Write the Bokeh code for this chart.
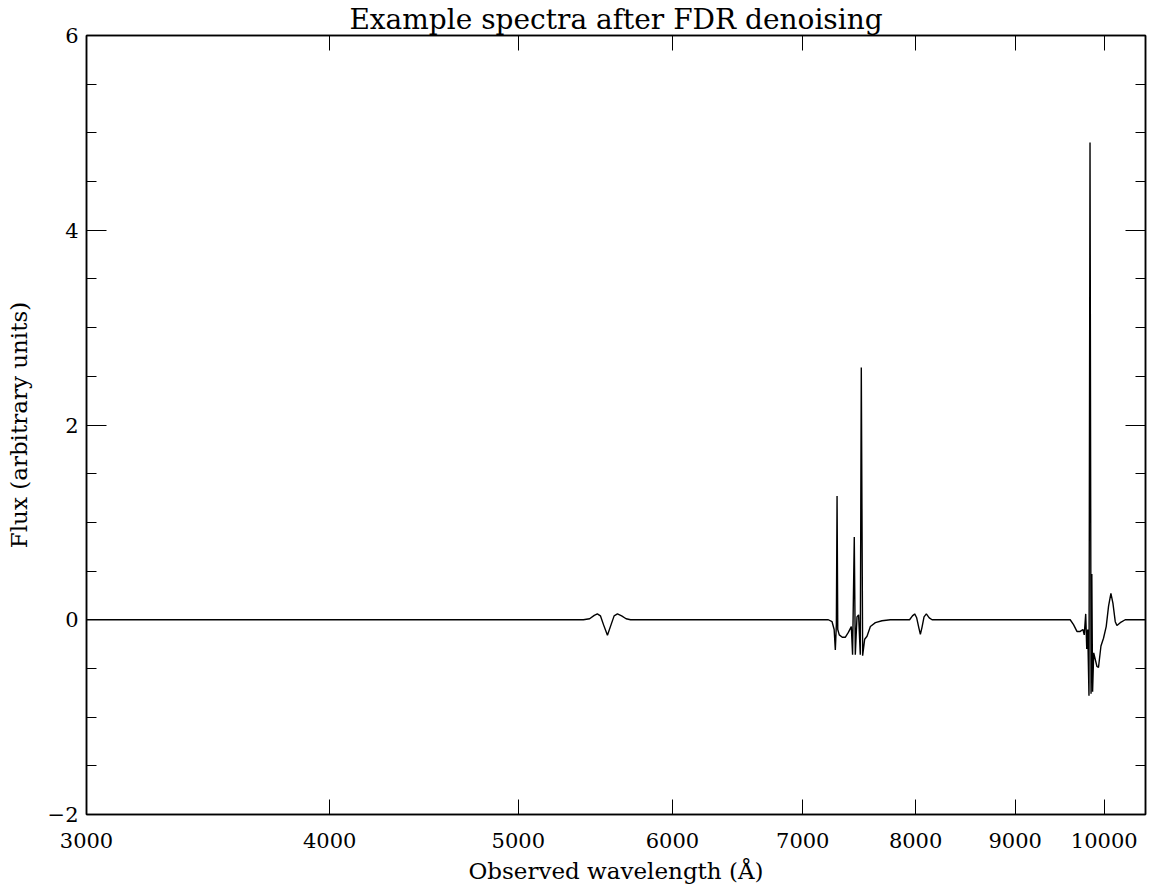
from bokeh.plotting import figure
from bokeh.models import (Range1d, FixedTicker, SingleIntervalTicker, LogAxis, LinearAxis,
                          NumeralTickFormatter, CustomJSTickFormatter)
from bokeh.embed import file_html
from bokeh.resources import INLINE

# Observed wavelength (Angstrom) and denoised flux
wavelength = [3000, 5400, 5440, 5470, 5490, 5510, 5530, 5556, 5580, 5600, 5622, 5650, 5680, 5710,
              7215, 7247, 7265, 7275, 7284, 7290, 7296, 7309, 7335, 7361, 7388, 7414, 7425, 7440,
              7449, 7464, 7478, 7493, 7502, 7514, 7532, 7553, 7583, 7628, 7688, 7764,
              7943, 7970, 7991, 8010, 8030, 8045, 8060, 8080, 8102, 8130, 8157,
              9605, 9643, 9682, 9720, 9751, 9766, 9783, 9795, 9806, 9821, 9833, 9845, 9854, 9863,
              9876, 9914, 9932, 9961, 9991, 10023, 10051, 10079, 10103, 10131, 10151, 10191, 10251, 10500]
flux = [0, 0, 0.01, 0.045, 0.06, 0.04, -0.05, -0.16, -0.05, 0.04, 0.06, 0.04, 0.01, 0,
        0, -0.02, -0.10, -0.31, -0.05, 1.27, -0.10, -0.155, -0.18, -0.18, -0.13, -0.07, -0.36, 0.85,
        -0.36, 0.03, 0.05, -0.36, 2.59, -0.37, -0.20, -0.17, -0.07, -0.03, -0.01, 0,
        0, 0.04, 0.06, 0.02, -0.08, -0.15, -0.08, 0.03, 0.06, 0.02, 0,
        0, -0.05, -0.12, -0.12, -0.10, -0.155, 0.06, -0.30, -0.10, -0.78, 4.90, -0.76, 0.47, -0.74,
        -0.34, -0.48, -0.49, -0.27, -0.19, -0.07, 0.14, 0.27, 0.17, -0.02, -0.06, -0.03, 0, 0]

x_ticks = [3000, 4000, 5000, 6000, 7000, 8000, 9000, 10000]
title_text = "Example spectra after FDR denoising"
x_label = "Observed wavelength (\u00c5)"
y_label = "Flux (arbitrary units)"

FONT = "DejaVu Serif"

p = figure(width=1150, height=886, x_axis_type="log",
           x_range=Range1d(3000, 10500), y_range=Range1d(-2, 6),
           output_backend="svg", toolbar_location=None,
           min_border_left=86, min_border_right=5, min_border_top=34, min_border_bottom=71)

p.line(wavelength, flux, line_color="black", line_width=1.4)

p.title.text = title_text
p.title.text_font = FONT
p.title.text_font_size = "28px"
p.title.text_font_style = "normal"
p.title.text_color = "black"
p.title.align = "center"
p.title.standoff = 0

p.xgrid.visible = False
p.ygrid.visible = False
p.outline_line_color = "black"
p.outline_line_width = 1.5
p.background_fill_color = "white"
p.border_fill_color = "white"

# bottom axis
xa = p.xaxis[0]
xa.ticker = FixedTicker(ticks=x_ticks)
xa.formatter = NumeralTickFormatter(format="0")
xa.major_tick_in = 15
xa.major_tick_out = 0
xa.minor_tick_in = 0
xa.minor_tick_out = 0
xa.major_label_standoff = 18
xa.major_label_text_font = FONT
xa.major_label_text_font_size = "21px"
xa.major_label_text_color = "black"
xa.axis_label = x_label
xa.axis_label_text_font = FONT
xa.axis_label_text_font_size = "23px"
xa.axis_label_text_font_style = "normal"
xa.axis_label_text_color = "black"
xa.axis_label_standoff = 7
xa.axis_line_width = 1.5

# left axis
ya = p.yaxis[0]
ya.ticker = SingleIntervalTicker(interval=2, num_minor_ticks=4)
ya.major_tick_in = 20
ya.major_tick_out = 0
ya.minor_tick_in = 10
ya.minor_tick_out = 0
ya.major_label_standoff = 8
ya.major_label_text_font = FONT
ya.major_label_text_font_size = "21px"
ya.major_label_text_color = "black"
ya.axis_label = y_label
ya.axis_label_text_font = FONT
ya.axis_label_text_font_size = "23px"
ya.axis_label_text_font_style = "normal"
ya.axis_label_text_color = "black"
ya.axis_label_standoff = 13
ya.axis_line_width = 1.5

blank = CustomJSTickFormatter(code="return ''")

# top axis (ticks only)
ta = LogAxis(ticker=FixedTicker(ticks=x_ticks), formatter=blank,
             major_tick_in=15, major_tick_out=0, minor_tick_in=0, minor_tick_out=0,
             major_label_text_color=None, major_label_standoff=0, axis_line_width=1.5)
p.add_layout(ta, "above")

# right axis (ticks only)
ra = LinearAxis(ticker=SingleIntervalTicker(interval=2, num_minor_ticks=4), formatter=blank,
                major_tick_in=20, major_tick_out=0, minor_tick_in=10, minor_tick_out=0,
                major_label_text_color=None, major_label_standoff=0, axis_line_width=1.5)
p.add_layout(ra, "right")

open("out.html", "w").write(file_html(p, INLINE))
